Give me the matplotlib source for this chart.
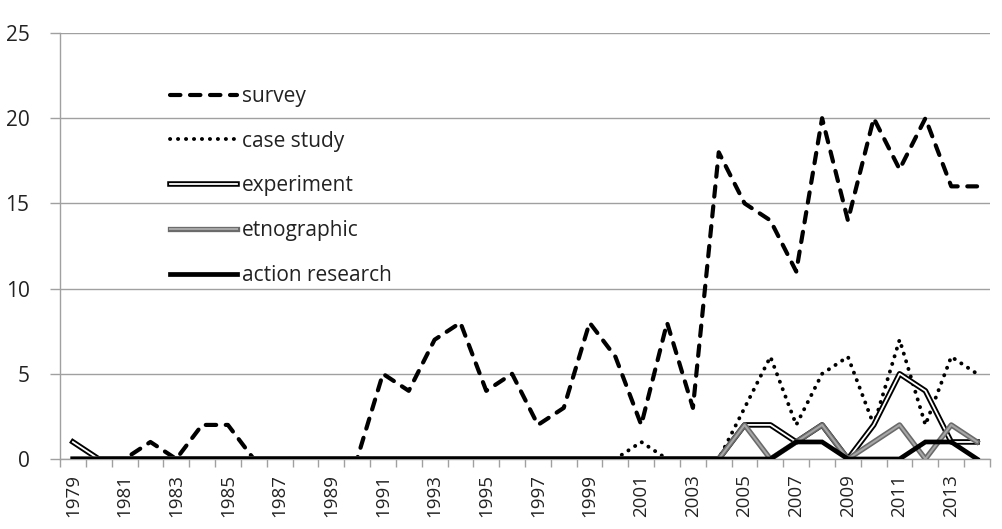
import matplotlib
matplotlib.use("Agg")
import matplotlib.pyplot as plt
import matplotlib.patheffects as pe

plt.rcParams['font.family'] = ['Open Sans', 'DejaVu Sans']

years = list(range(1979, 2015))
survey = [0, 0, 0, 1, 0, 2, 2, 0, 0, 0, 0, 0, 5, 4, 7, 8, 4, 5, 2, 3,
          8, 6, 2, 8, 3, 18, 15, 14, 11, 20, 14, 20, 17, 20, 16, 16]
case_study = [0, 0, 0, 0, 0, 0, 0, 0, 0, 0, 0, 0, 0, 0, 0, 0, 0, 0, 0, 0,
              0, 0, 1, 0, 0, 0, 3, 6, 2, 5, 6, 2, 7, 2, 6, 5]
experiment = [1, 0, 0, 0, 0, 0, 0, 0, 0, 0, 0, 0, 0, 0, 0, 0, 0, 0, 0, 0,
              0, 0, 0, 0, 0, 0, 2, 2, 1, 2, 0, 2, 5, 4, 1, 1]
etnographic = [0, 0, 0, 0, 0, 0, 0, 0, 0, 0, 0, 0, 0, 0, 0, 0, 0, 0, 0, 0,
               0, 0, 0, 0, 0, 0, 2, 0, 1, 2, 0, 1, 2, 0, 2, 1]
action_research = [0, 0, 0, 0, 0, 0, 0, 0, 0, 0, 0, 0, 0, 0, 0, 0, 0, 0, 0, 0,
                   0, 0, 0, 0, 0, 0, 0, 0, 1, 1, 0, 0, 0, 1, 1, 0]
labels = ["survey", "case study", "experiment", "etnographic", "action research"]
y_ticks = [0, 5, 10, 15, 20, 25]

fig = plt.figure(figsize=(10.02, 5.29), dpi=100)
ax = fig.add_axes([60/1002, 1-459/529, 930/1002, 426/529])

x = list(range(len(years)))

l1, = ax.plot(x, survey, color='black', lw=3.0, dashes=(2.5, 2.3),
              dash_capstyle='round', solid_joinstyle='round', label=labels[0], zorder=3)
l2, = ax.plot(x, case_study, color='black', lw=2.8, dashes=(0.05, 2.0),
              dash_capstyle='round', label=labels[1], zorder=3)
l3, = ax.plot(x, experiment, color='white', lw=1.3, label=labels[2], zorder=3,
              path_effects=[pe.Stroke(linewidth=4.0, foreground='black'), pe.Normal()])
l4, = ax.plot(x, etnographic, color='#a6a6a6', lw=1.5, label=labels[3], zorder=3,
              path_effects=[pe.Stroke(linewidth=3.8, foreground='#6a6a6a'), pe.Normal()])
l5, = ax.plot(x, action_research, color='black', lw=3.4, label=labels[4], zorder=3,
              solid_joinstyle='miter')

ax.set_xlim(-0.5, len(years) - 0.5)
ax.set_ylim(0, 25)
ax.set_yticks(y_ticks)
ax.set_yticklabels([str(v) for v in y_ticks])
ax.yaxis.grid(True, color='#a0a0a0', lw=1.0)
ax.set_axisbelow(True)

major = list(range(0, len(years), 2))
ax.set_xticks(major)
ax.set_xticklabels([str(years[i]) for i in major], rotation=90)
ax.set_xticks([i - 0.5 for i in range(len(years) + 1)], minor=True)
ax.tick_params(axis='x', which='major', length=0, pad=11, labelsize=13.5, colors='#222222')
ax.tick_params(axis='x', which='minor', length=6, width=1, color='#a0a0a0', direction='out')
ax.tick_params(axis='y', length=7, width=1, color='#a0a0a0', pad=15, labelsize=15,
               labelcolor='#222222')

for s in ['top', 'right']:
    ax.spines[s].set_visible(False)
for s in ['left', 'bottom']:
    ax.spines[s].set_color('#a0a0a0')
    ax.spines[s].set_linewidth(1.0)

leg = ax.legend(handles=[l1, l2, l3, l4, l5], loc='upper left',
                bbox_to_anchor=(110/930, (459-86)/426), frameon=False,
                borderaxespad=0, borderpad=0, handlelength=3.2, handletextpad=0.25,
                labelspacing=1.14, fontsize=15)
for t in leg.get_texts():
    t.set_color('#222222')

fig.savefig("out.png", dpi=100)
